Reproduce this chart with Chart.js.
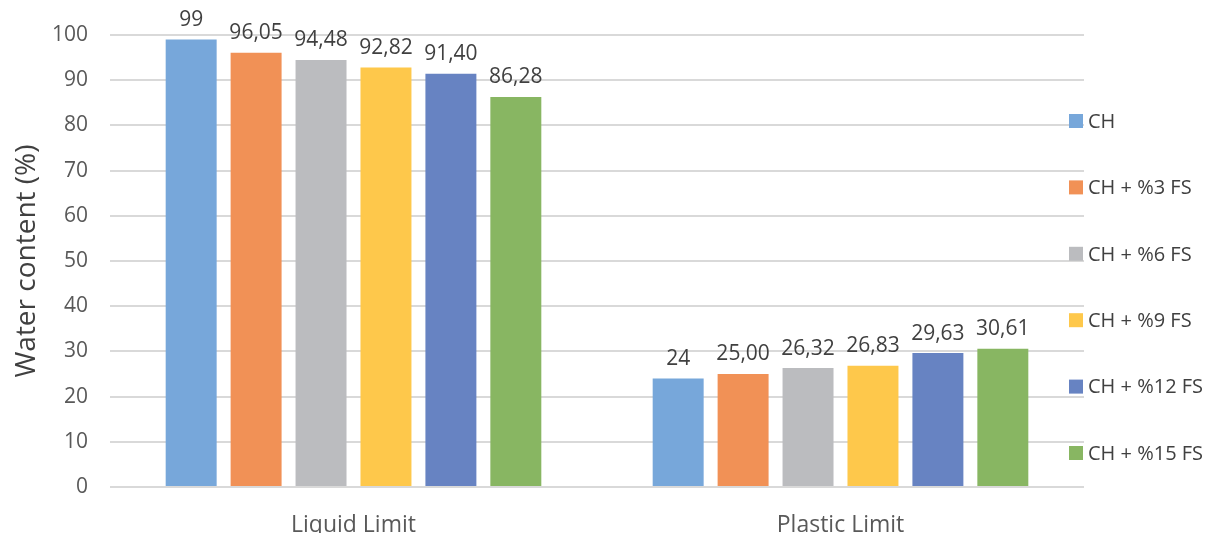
<!DOCTYPE html>
<html>
<head>
<meta charset="utf-8">
<script src="https://cdn.jsdelivr.net/npm/chart.js"></script>
<style>
  html, body { margin: 0; padding: 0; background: #fff; }
  #wrap { width: 1209px; height: 533px; }
</style>
</head>
<body>
<div id="wrap"><canvas id="chart" width="1209" height="533"></canvas></div>
<script>
const categories = ["Liquid Limit", "Plastic Limit"];
const seriesNames = ["CH", "CH + %3 FS", "CH + %6 FS", "CH + %9 FS", "CH + %12 FS", "CH + %15 FS"];
const seriesColors = ["#77A7DA", "#F19156", "#BBBCBF", "#FEC84B", "#6783C2", "#88B662"];

// values per series: [Liquid Limit, Plastic Limit]
const chValues = [99, 24];
const fs3Values = [96.05, 25.00];
const fs6Values = [94.48, 26.32];
const fs9Values = [92.82, 26.83];
const fs12Values = [91.40, 29.63];
const fs15Values = [86.28, 30.61];

// labels as printed on the chart
const chLabels = ["99", "24"];
const fs3Labels = ["96,05", "25,00"];
const fs6Labels = ["94,48", "26,32"];
const fs9Labels = ["92,82", "26,83"];
const fs12Labels = ["91,40", "29,63"];
const fs15Labels = ["86,28", "30,61"];

const yTicks = [0, 10, 20, 30, 40, 50, 60, 70, 80, 90, 100];

const allValues = [chValues, fs3Values, fs6Values, fs9Values, fs12Values, fs15Values];
const allLabels = [chLabels, fs3Labels, fs6Labels, fs9Labels, fs12Labels, fs15Labels];

const FONT = "'Open Sans', 'Noto Sans', sans-serif";

const valueLabels = {
  id: "valueLabels",
  afterDatasetsDraw(chart) {
    const ctx = chart.ctx;
    ctx.save();
    ctx.font = "21px " + FONT;
    ctx.fillStyle = "#404040";
    ctx.textAlign = "center";
    ctx.textBaseline = "bottom";
    chart.data.datasets.forEach((ds, i) => {
      chart.getDatasetMeta(i).data.forEach((bar, j) => {
        ctx.fillText(ds.printed[j], bar.x, bar.y - 9);
      });
    });
    ctx.restore();
  }
};

// legend drawn at the right, over the ends of the gridlines
const sideLegend = {
  id: "sideLegend",
  afterDraw(chart) {
    const ctx = chart.ctx;
    const x0 = chart.chartArea.right - 15;
    const y0 = 121, step = 66.4;
    ctx.save();
    ctx.font = "20px " + FONT;
    ctx.textBaseline = "middle";
    ctx.textAlign = "left";
    chart.data.datasets.forEach((ds, i) => {
      const y = y0 + i * step;
      ctx.fillStyle = ds.backgroundColor;
      ctx.fillRect(x0, y - 7, 14, 14);
      ctx.fillStyle = "#404040";
      ctx.fillText(ds.label, x0 + 19, y + 1);
    });
    ctx.restore();
  }
};

new Chart(document.getElementById("chart"), {
  type: "bar",
  data: {
    labels: categories,
    datasets: seriesNames.map((name, i) => ({
      label: name,
      data: allValues[i],
      printed: allLabels[i],
      backgroundColor: seriesColors[i],
      borderWidth: 0,
      categoryPercentage: 0.8,
      barPercentage: 0.785
    }))
  },
  options: {
    responsive: false,
    animation: false,
    layout: { padding: { top: 35, right: 125, left: 0, bottom: 0 } },
    plugins: {
      legend: { display: false },
      tooltip: { enabled: false }
    },
    scales: {
      x: {
        grid: { display: false },
        border: { display: false },
        ticks: { color: "#595959", font: { family: FONT, size: 23 }, padding: 17 },
        afterFit(scale) { scale.height = 46; }
      },
      y: {
        min: 0,
        max: 100,
        afterBuildTicks(scale) { scale.ticks = yTicks.map(v => ({ value: v })); },
        grid: { color: "#D9D9D9", lineWidth: 2, drawTicks: false },
        border: { display: false },
        ticks: { color: "#595959", font: { family: FONT, size: 21 }, padding: 22 },
        title: {
          display: true,
          text: "Water content (%)",
          color: "#404040",
          font: { family: FONT, size: 28, weight: "normal" },
          padding: { top: 10, bottom: 0 }
        },
        afterFit(scale) { scale.width = 110; }
      }
    }
  },
  plugins: [valueLabels, sideLegend]
});
</script>
</body>
</html>
